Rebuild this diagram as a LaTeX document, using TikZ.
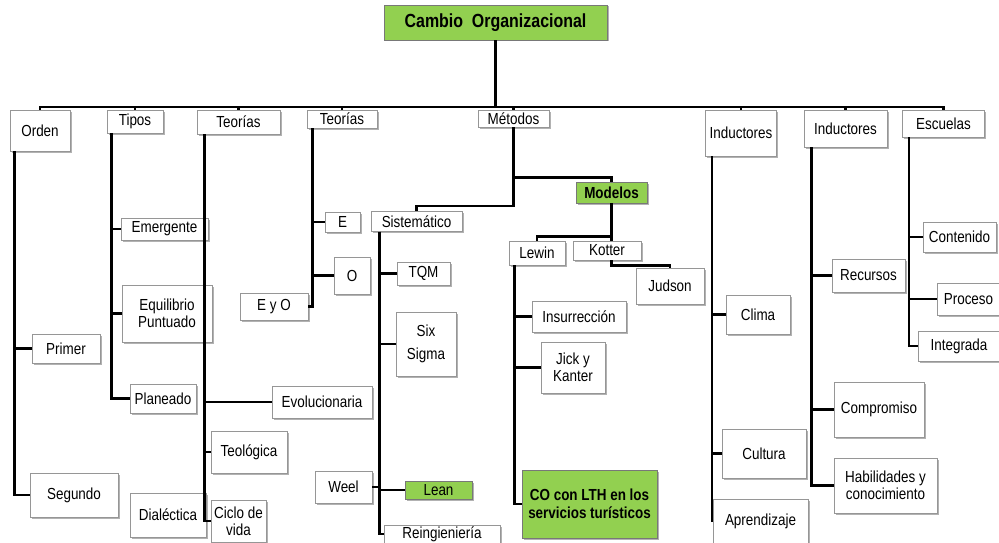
\documentclass[tikz,border=0pt]{standalone}
\usepackage{fontspec}
\setmainfont{Liberation Sans}[FakeStretch=0.84]
\usetikzlibrary{shadows}
\definecolor{verde}{RGB}{146,208,80}
\definecolor{borde}{RGB}{150,150,150}
\tikzset{
  box/.style={draw=borde, line width=0.8pt, fill=white, inner sep=1pt, align=center,
    font=\fontsize{16}{17}\selectfont,
    drop shadow={shadow xshift=1.5pt, shadow yshift=-1.5pt, fill=black, opacity=0.3}},
  greenbox/.style={box, fill=verde, draw=borde!80!black},
  wh/.style 2 args={minimum width=#1pt, minimum height=#2pt},
  conn/.style={line width=2.6pt, black}
}

\begin{document}
\begin{tikzpicture}[x=1pt, y=-1pt]
  \useasboundingbox (0,0) rectangle (999,543);

  % Root
  \node[greenbox, wh={223}{35}, font=\fontsize{19}{20}\selectfont\bfseries] (title) at (495.5,22.5) {Cambio\ \ Organizacional};
  \coordinate (bus) at (495.5,107);

  % First level
  \node[box, wh={60}{41}] (orden) at (40,130.5) {Orden};
  \node[box, wh={56}{23}] (tipos) at (135,121.5) {Tipos};
  \node[box, wh={83}{24}] (teorias) at (238.5,122) {Teorías};
  \node[box, wh={70}{18}] (teorias2) at (342,119) {Teorías};
  \node[box, wh={71}{17}] (metodos) at (513.5,118.5) {Métodos};
  \node[box, wh={71}{46}] (inductores) at (741,133) {Inductores};
  \node[box, wh={83}{37}] (inductores2) at (845.5,128.5) {Inductores};
  \node[box, wh={82}{27}] (escuelas) at (943.5,123.5) {Escuelas};

  \draw[conn] (title.south) -- (bus);
  \foreach \n in {orden,tipos,teorias,teorias2,metodos,inductores,inductores2,escuelas}
    \draw[conn] (bus) -| (\n.north);

  % Orden
  \node[box, wh={68}{29}] (primer) at (66,348.5) {Primer};
  \node[box, wh={88}{44}] (segundo) at (74,495) {Segundo};
  \draw[conn] ([xshift=5pt]orden.south west) |- (primer.west);
  \draw[conn] ([xshift=5pt]orden.south west) |- (segundo.west);

  % Tipos
  \node[box, wh={87}{22}] (emergente) at (164.5,229) {Emergente};
  \node[box, wh={90}{57}] (equilibrio) at (167,313.5) {Equilibrio\\Puntuado};
  \node[box, wh={66}{29}] (planeado) at (163,398.5) {Planeado};
  \foreach \n in {emergente,equilibrio,planeado}
    \draw[conn] ([xshift=5pt]tipos.south west) |- (\n.west);

  % Teorias
  \node[box, wh={100}{32}] (evolucionaria) at (322,402) {Evolucionaria};
  \node[box, wh={76}{42}] (teologica) at (249,452) {Teológica};
  \node[box, wh={76}{44}] (dialectica) at (168,515) {Dialéctica};
  \node[box, wh={55}{42}] (ciclo) at (238.5,521) {Ciclo de\\vida};
  \foreach \n in {evolucionaria,teologica,ciclo}
    \draw[conn] ([xshift=8pt]teorias.south west) |- (\n.west);

  % Teorias (2)
  \node[box, wh={35}{20}] (e) at (342.5,222) {E};
  \node[box, wh={36}{37}] (o) at (352,275.5) {O};
  \node[box, wh={68}{27}] (eyo) at (274,306.5) {E y O};
  \draw[conn] ([xshift=6pt]teorias2.south west) |- (e.west);
  \draw[conn] ([xshift=6pt]teorias2.south west) |- (o.west);
  \draw[conn] ([xshift=6pt]teorias2.south west) |- (eyo.east);

  % Metodos
  \node[box, wh={91}{20}] (sistematico) at (416.5,221.5) {Sistemático};
  \node[greenbox, wh={71}{21}, font=\fontsize{16}{17}\selectfont\bfseries] (modelos) at (611.5,192.5) {Modelos};
  \draw[conn] (metodos.south) |- ([yshift=4pt]modelos.north) -- (modelos.north);
  \draw[conn] (metodos.south) |- ([yshift=5pt]sistematico.north) -- (sistematico.north);

  % Sistematico
  \node[box, wh={53}{23}] (tqm) at (423.5,273.5) {TQM};
  \node[box, wh={60}{64}] (sixsigma) at (426,344) {Six\\[6pt]Sigma};
  \node[box, wh={57}{32}] (weel) at (343.5,487) {Weel};
  \node[greenbox, wh={67}{18}] (lean) at (438.5,490) {Lean};
  \node[box, wh={116}{18}] (reing) at (442,534) {Reingieniería};
  \foreach \n in {tqm,sixsigma,lean,reing}
    \draw[conn] ([xshift=9pt]sistematico.south west) |- (\n.west);
  \draw[conn] ([xshift=9pt]sistematico.south west) |- (weel.east);

  % Modelos
  \node[box, wh={56}{24}] (lewin) at (537,253) {Lewin};
  \node[box, wh={68}{19}] (kotter) at (607,250.5) {Kotter};
  \node[box, wh={68}{36}] (judson) at (670,286) {Judson};
  \draw[conn] (modelos.south) |- ([yshift=4pt]lewin.north) -- (lewin.north);
  \draw[conn] (modelos.south) -- (modelos.south |- kotter.north);
  \draw[conn] (kotter.south -| modelos.south) |- ([yshift=2pt]judson.north) -- (judson.north);

  % Lewin
  \node[box, wh={94}{31}] (insurreccion) at (579,316.5) {Insurrección};
  \node[box, wh={64}{51}] (jick) at (573,367.5) {Jick y\\Kanter};
  \node[greenbox, wh={135}{68}, font=\fontsize{16}{18}\selectfont\bfseries] (colth) at (589.5,504) {CO con LTH en los\\servicios turísticos};
  \foreach \n in {insurreccion,jick,colth}
    \draw[conn] ([xshift=6pt]lewin.south west) |- (\n.west);

  % Inductores
  \node[box, wh={64}{39}] (clima) at (758,314.5) {Clima};
  \node[box, wh={84}{49}] (cultura) at (764,453.5) {Cultura};
  \node[box, wh={95}{44}] (aprendizaje) at (760.5,521) {Aprendizaje};
  \foreach \n in {clima,cultura,aprendizaje}
    \draw[conn] ([xshift=7pt]inductores.south west) |- (\n.west);

  % Inductores (2)
  \node[box, wh={73}{33}] (recursos) at (868.5,275.5) {Recursos};
  \node[box, wh={90}{55}] (compromiso) at (879,409.5) {Compromiso};
  \node[box, wh={103}{55}] (habilidades) at (885.5,485.5) {Habilidades y\\conocimiento};
  \foreach \n in {recursos,compromiso,habilidades}
    \draw[conn] ([xshift=8pt]inductores2.south west) |- (\n.west);

  % Escuelas
  \node[box, wh={73}{30}] (contenido) at (959.5,237) {Contenido};
  \node[box, wh={63}{32}] (proceso) at (968.5,299) {Proceso};
  \node[box, wh={82}{30}] (integrada) at (959,346) {Integrada};
  \foreach \n in {contenido,proceso,integrada}
    \draw[conn] ([xshift=7pt]escuelas.south west) |- (\n.west);
\end{tikzpicture}
\end{document}
